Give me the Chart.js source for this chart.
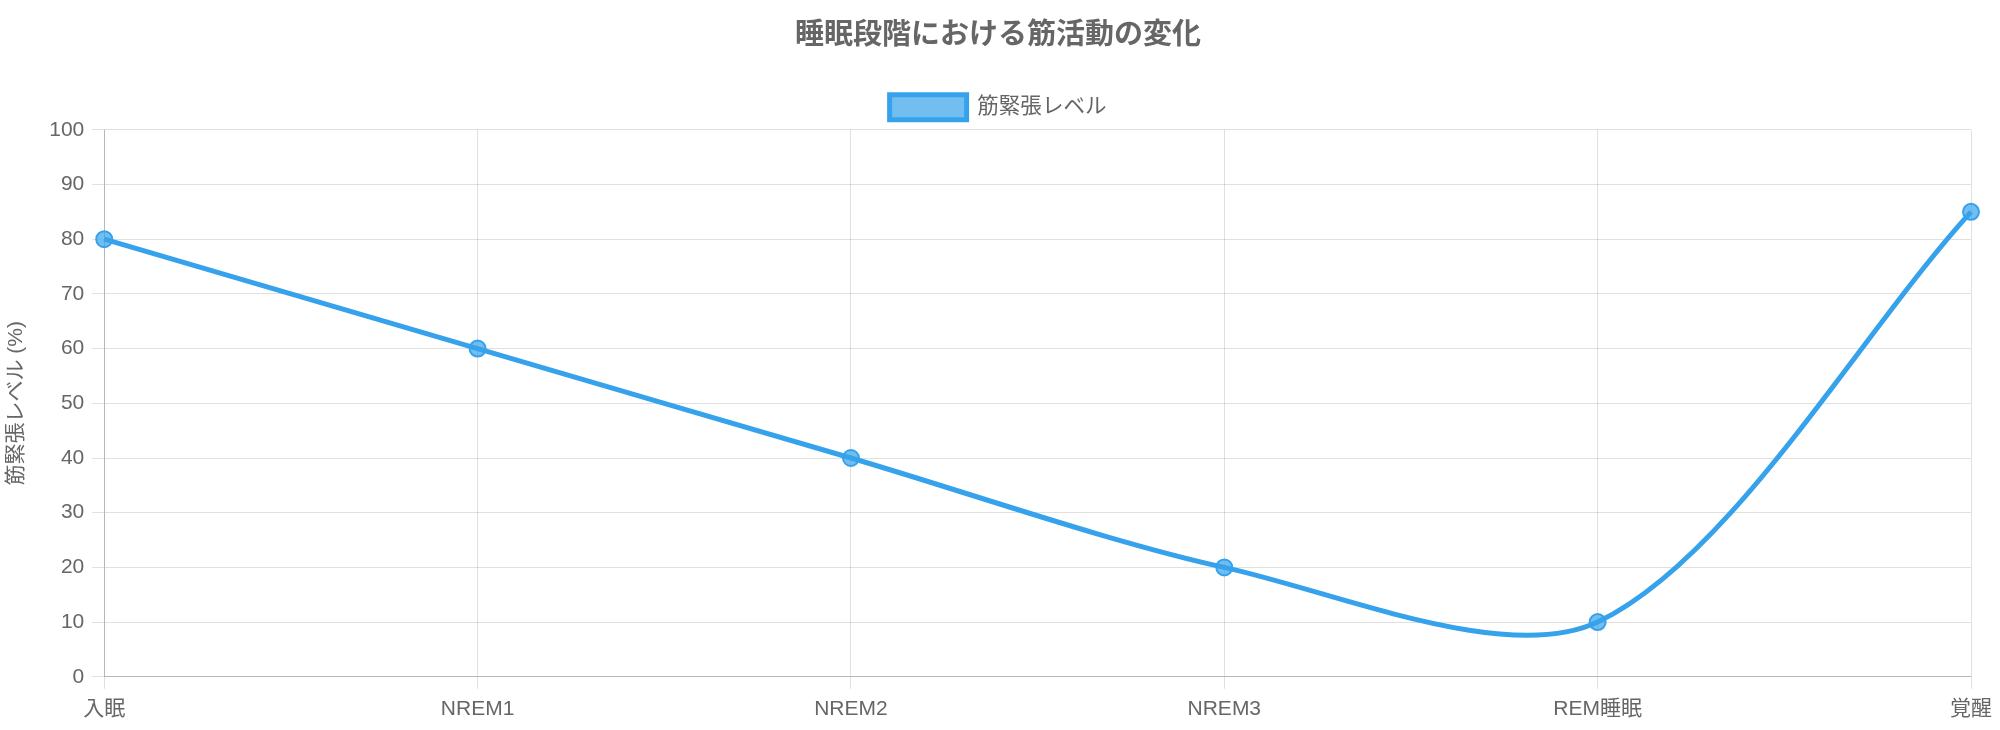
<!DOCTYPE html>
<html>
<head>
<meta charset="utf-8">
<script src="https://cdn.jsdelivr.net/npm/chart.js@4.4.1/dist/chart.umd.min.js"></script>
<style>
html,body{margin:0;padding:0;background:#fff;}
#wrap{width:2000px;height:730px;position:relative;}
</style>
</head>
<body>
<div id="wrap"><canvas id="c" width="2000" height="730"></canvas></div>
<script>
const categories = ["入眠", "NREM1", "NREM2", "NREM3", "REM睡眠", "覚醒"];
const muscleTone = [80, 60, 40, 20, 10, 85];
const seriesLabel = "筋緊張レベル";
const titleText = "睡眠段階における筋活動の変化";
const yAxisTitle = "筋緊張レベル (%)";

const FONT = "'Liberation Sans', 'Noto Sans CJK JP', sans-serif";
Chart.defaults.font.family = FONT;
Chart.defaults.color = '#666';

new Chart(document.getElementById('c'), {
  type: 'line',
  data: {
    labels: categories,
    datasets: [{
      label: seriesLabel,
      data: muscleTone,
      borderColor: 'rgb(54,162,235)',
      backgroundColor: 'rgba(54,162,235,0.7)',
      borderWidth: 5,
      tension: 0.3,
      pointRadius: 8,
      pointBorderWidth: 2,
      pointBackgroundColor: 'rgba(54,162,235,0.7)',
      pointBorderColor: 'rgb(54,162,235)',
      fill: false
    }]
  },
  options: {
    responsive: false,
    animation: false,
    devicePixelRatio: 1,
    layout: { padding: { left: 0, right: 4, top: 9, bottom: 0 } },
    plugins: {
      title: {
        display: true,
        text: titleText,
        color: '#666',
        font: { size: 29, weight: 'bold', family: FONT },
        padding: { top: 10, bottom: 27 }
      },
      legend: {
        display: true,
        labels: {
          color: '#666',
          font: { size: 21.5, family: FONT },
          boxWidth: 77,
          boxHeight: 25,
          padding: 14
        }
      },
      tooltip: { enabled: false }
    },
    scales: {
      x: {
        grid: { color: 'rgba(0,0,0,0.12)', tickLength: 12 },
        border: { color: 'rgba(0,0,0,0.18)' },
        ticks: { color: '#666', font: { size: 21, family: FONT }, maxRotation: 0, padding: 8 }
      },
      y: {
        min: 0,
        max: 100,
        ticks: { stepSize: 10, color: '#666', font: { size: 21, family: FONT }, padding: 8 },
        grid: { color: 'rgba(0,0,0,0.12)', tickLength: 12 },
        border: { color: 'rgba(0,0,0,0.18)' },
        title: { display: true, text: yAxisTitle, color: '#666', font: { size: 21, family: FONT }, padding: { top: 4, bottom: 12 } }
      }
    }
  }
});
</script>
</body>
</html>
